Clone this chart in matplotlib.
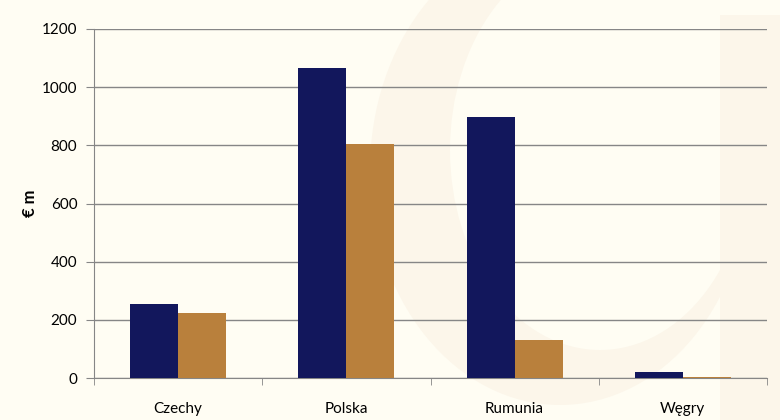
import matplotlib.pyplot as plt
import numpy as np
from matplotlib.patches import Ellipse

plt.rcParams['font.family'] = ['Lato', 'DejaVu Sans']

countries = ['Czechy', 'Polska', 'Rumunia', 'Węgry']
navy_vals = [255, 1066, 897, 22]
ochre_vals = [225, 805, 131, 3]
y_ticks = [0, 200, 400, 600, 800, 1000, 1200]

bg = '#FFFDF3'
navy = '#12175C'
ochre = '#B9803C'
grid_col = '#868686'
wm_col = '#FCF6EA'

fig = plt.figure(figsize=(7.8, 4.2), dpi=100, facecolor=bg)

# faint watermark behind the chart
wm = fig.add_axes([0, 0, 1, 1], zorder=0)
wm.set_xlim(0, 780)
wm.set_ylim(420, 0)
wm.axis('off')
wm.add_patch(Ellipse((560, 170), 380, 470, color=wm_col, lw=0))
wm.add_patch(Ellipse((600, 150), 300, 400, color=bg, lw=0))
wm.add_patch(plt.Rectangle((720, 15), 60, 405, color=wm_col, lw=0))

ax = fig.add_axes([94 / 780, 1 - 378 / 420, 673 / 780, 349 / 420], zorder=1)
ax.patch.set_alpha(0)

x = np.arange(len(countries))
w = 0.286
ax.bar(x - w / 2, navy_vals, w, color=navy, zorder=3)
ax.bar(x + w / 2, ochre_vals, w, color=ochre, zorder=3)

ax.set_xlim(-0.5, len(countries) - 0.5)
ax.set_ylim(0, 1200)
ax.set_yticks(y_ticks)
ax.yaxis.grid(True, color=grid_col, lw=1.0)
ax.set_axisbelow(True)

ax.set_xticks(x)
ax.set_xticklabels(countries, fontsize=11)
ax.set_xticks(np.arange(len(countries) + 1) - 0.5, minor=True)
ax.tick_params(axis='x', which='major', length=0, pad=17, colors='black')
ax.tick_params(axis='x', which='minor', length=5, color=grid_col)
ax.tick_params(axis='y', length=6, color=grid_col, labelsize=11, pad=6)

for s in ['top', 'right']:
    ax.spines[s].set_visible(False)
for s in ['left', 'bottom']:
    ax.spines[s].set_color(grid_col)

ax.set_ylabel('€ m', fontsize=12, fontweight='bold', labelpad=3)

plt.savefig('out.png', dpi=100, facecolor=bg)
